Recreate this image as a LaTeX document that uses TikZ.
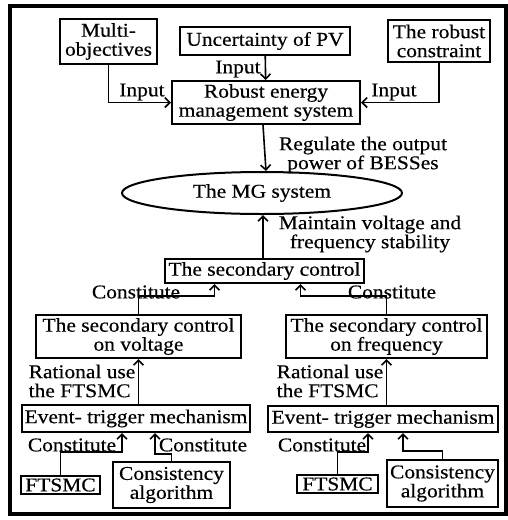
\documentclass[tikz,border=0pt]{standalone}
\usepackage{fontspec}
\setmainfont{Liberation Serif}[FakeStretch=1.1,FakeBold=0.4]
\usetikzlibrary{arrows.meta,shapes.geometric}

\begin{document}
\begin{tikzpicture}[x=1pt,y=-1pt]
        \tikzstyle{box} = [rectangle, draw=black, line width=2pt, inner sep=0pt, align=center, text centered, font=\fontsize{19.5}{19}\selectfont]
        \tikzstyle{lbl} = [inner sep=0pt, align=center, font=\fontsize{19.5}{19}\selectfont]
        \tikzstyle{arrow} = [-{Straight Barb[length=5pt,width=10pt]}, line width=1.6pt]

        \useasboundingbox (0,0) rectangle (508,520);
        \draw[line width=3.5pt] (10,6) rectangle (506,514);

        % top part
        \node (multi) [box, minimum width=97pt, minimum height=45pt] at (108.5,41.5) {Multi-\\objectives};
        \node (pv) [box, minimum width=170pt, minimum height=28pt] at (265,41) {Uncertainty of PV};
        \node (constr) [box, minimum width=102pt, minimum height=42pt] at (439,41) {The robust\\constraint};
        \node (rems) [box, minimum width=188pt, minimum height=43pt] at (266,102.5) {Robust energy\\management system};
        \node (mg) [box, ellipse, minimum width=280pt, minimum height=42pt] at (262,193) {The MG system};
        \node (sec) [box, minimum width=199pt, minimum height=24pt] at (264.5,271) {The secondary control};

        % middle part
        \node (volt) [box, minimum width=205pt, minimum height=43pt] at (138.5,336.5) {The secondary control\\on voltage};
        \node (freq) [box, minimum width=201pt, minimum height=43pt] at (386.5,336.5) {The secondary control\\on frequency};
        \node (evl) [box, minimum width=228pt, minimum height=27pt] at (136,418.5) {Event- trigger mechanism};
        \node (evr) [box, minimum width=230pt, minimum height=26pt] at (383,419) {Event- trigger mechanism};

        % bottom part
        \node (ftl) [box, minimum width=79pt, minimum height=18pt] at (60.5,485) {FTSMC};
        \node (csl) [box, minimum width=117pt, minimum height=46pt] at (171.5,485) {Consistency\\algorithm};
        \node (ftr) [box, minimum width=81pt, minimum height=18pt] at (337.5,484) {FTSMC};
        \node (csr) [box, minimum width=111pt, minimum height=47pt] at (442.5,483.5) {Consistency\\algorithm};

        % labels
        \node (inl) [lbl] at (142,92) {Input};
        \node (inm) [lbl] at (238,69) {Input};
        \node (inr) [lbl] at (394,92) {Input};
        \node (reg) [lbl] at (363,155) {Regulate the output\\power of BESSes};
        \node (mnt) [lbl] at (370,234) {Maintain voltage and\\frequency stability};
        \node (con1) [lbl] at (136,292) {Constitute};
        \node (con2) [lbl] at (392,292) {Constitute};
        \node (rat1) [lbl, align=left] at (82,381) {Rational use\\the FTSMC};
        \node (rat2) [lbl, align=left] at (330,381) {Rational use\\the FTSMC};
        \node (con3) [lbl] at (72,445) {Constitute};
        \node (con4) [lbl] at (203,445) {Constitute};
        \node (con5) [lbl] at (322,445) {Constitute};

        % connectors
        \draw [arrow] (multi) |- (rems);
        \draw [arrow] (constr) |- (rems);
        \draw [arrow] (pv) -- (rems);
        \draw [arrow] ([xshift=-3pt]rems.south) -- (rems.south |- mg.north);
        \draw [arrow] ([xshift=-1.5pt]sec.north) -- ([xshift=-1.5pt]sec.north |- mg.south);
        \draw [arrow] (volt.north) -- ++(0,-18) -| ([xshift=-50pt]sec.south);
        \draw [arrow] (freq.north) -- ++(0,-18) -| ([xshift=36pt]sec.south);
        \draw [arrow] (volt.south |- evl.north) -- (volt.south);
        \draw [arrow] (freq.south |- evr.north) -- (freq.south);
        \draw [arrow] (ftl.north) -- ++(0,-23) -| ([xshift=-14pt]evl.south);
        \draw [arrow] (csl.north) -- ++(0,-7) -| ([xshift=19pt]evl.south);
        \draw [arrow] (ftr.north) -- ++(0,-22) -| ([xshift=-15pt]evr.south);
        \draw [arrow] (csr.north) -- ++(0,-8) -| ([xshift=20pt]evr.south);
    \end{tikzpicture}
\end{document}
